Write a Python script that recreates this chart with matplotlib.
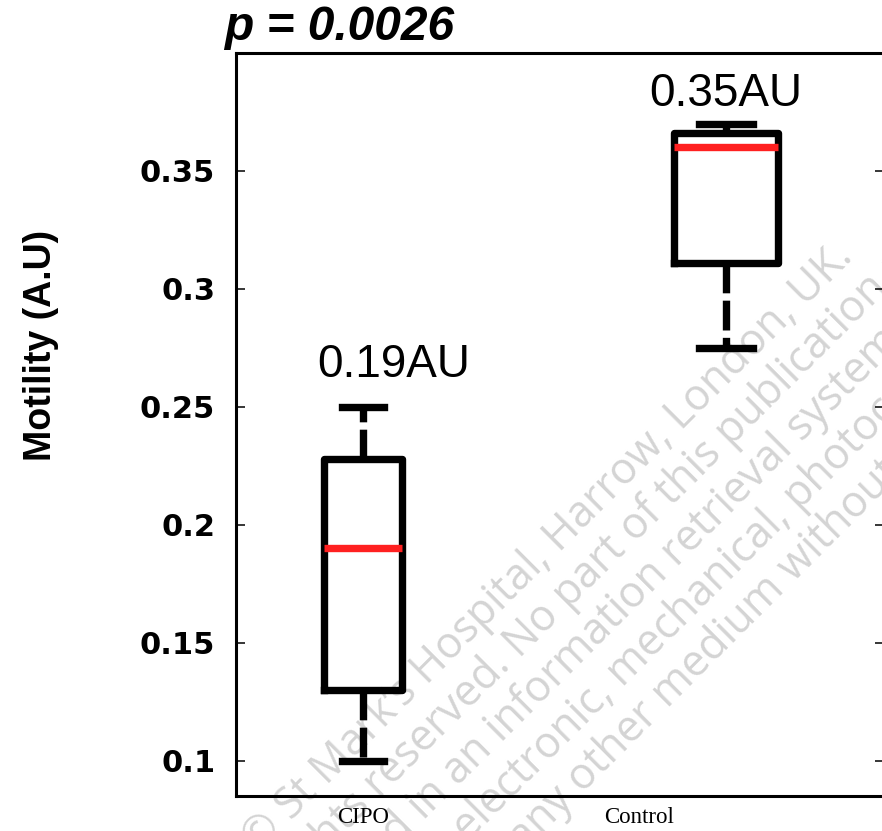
import numpy as np
import matplotlib.pyplot as plt

# data
groups = ['CIPO', 'Control']
whislo = [0.100, 0.275]
q1 = [0.130, 0.311]
med = [0.190, 0.360]
q3 = [0.228, 0.366]
whishi = [0.250, 0.370]
median_labels = ['0.19AU', '0.35AU']
yticks = [0.1, 0.15, 0.2, 0.25, 0.3, 0.35]
ytick_labels = ['0.1', '0.15', '0.2', '0.25', '0.3', '0.35']
p_text = 'p = 0.0026'

watermark = ("\u00a9 St Mark\u2019s Hospital, Harrow, London, UK.\n"
             "rights reserved. No part of this publication may be reproduced,\n"
             "stored in an information retrieval system, or transmitted in any form or by any\n"
             "means, electronic, mechanical, photocopying, recording or otherwise, or\n"
             "stored in any other medium without the prior written permission of the publisher.")

fig = plt.figure(figsize=(8.82, 8.31), dpi=100)
ax = fig.add_axes([236 / 882, 1 - 796 / 831, 648 / 882, (796 - 53) / 831])

stats = []
for i in range(len(groups)):
    stats.append(dict(label=groups[i], whislo=whislo[i], q1=q1[i], med=med[i],
                      q3=q3[i], whishi=whishi[i], fliers=[]))

lw = 5.3
ax.bxp(stats, positions=[1, 2], widths=[0.215, 0.285], capwidths=[0.116, 0.149],
       showfliers=False, patch_artist=False,
       boxprops=dict(color='black', linewidth=lw, zorder=3),
       whiskerprops=dict(color='black', linewidth=lw, linestyle=(0, (4.05, 1.0)), zorder=3),
       capprops=dict(color='black', linewidth=lw, zorder=3),
       medianprops=dict(color='#ff2020', linewidth=lw, zorder=4))

# value labels above the boxes
ax.text(1.085, 0.2626, median_labels[0], ha='center', va='baseline',
        fontsize=33, family=['Liberation Sans', 'DejaVu Sans'], zorder=5)
ax.text(2.0, 0.3774, median_labels[1], ha='center', va='baseline',
        fontsize=33, family=['Liberation Sans', 'DejaVu Sans'], zorder=5)

ax.set_xlim(0.65, 2.435)
ax.set_ylim(0.085, 0.4)
ax.set_yticks(yticks)
ax.set_yticklabels(ytick_labels, fontsize=22, fontweight='bold', family='DejaVu Sans')
ax.set_xticks([1, 1.76])
ax.set_xticklabels(groups, fontsize=16.5, family=['Liberation Serif', 'DejaVu Serif'])
ax.tick_params(axis='y', direction='in', length=6.5, width=1.1, right=True, pad=15)
ax.tick_params(axis='x', length=0, pad=8)
for s in ax.spines.values():
    s.set_linewidth(2.2)

fig.text(41 / 882, 1 - 345 / 831, 'Motility (A.U)', rotation=90, ha='center', va='center',
         fontsize=27, fontweight='bold', family=['Liberation Sans', 'DejaVu Sans'])
fig.text(224 / 882, 1 - 40 / 831, p_text, ha='left', va='baseline', fontsize=34.5,
         fontweight='bold', fontstyle='italic', family=['Liberation Sans', 'DejaVu Sans'])

# copyright watermark, left aligned, drawn inside the axes but behind the boxes
ax.text(234 / 882, 1 - 830 / 831, watermark, transform=fig.transFigure, clip_on=False,
        rotation=45, rotation_mode='anchor', ha='left', va='top', multialignment='left',
        fontsize=31, color='#d4d4d4', linespacing=1.05,
        family=['Open Sans', 'DejaVu Sans'], zorder=1)

plt.savefig('out.png', dpi=100)
